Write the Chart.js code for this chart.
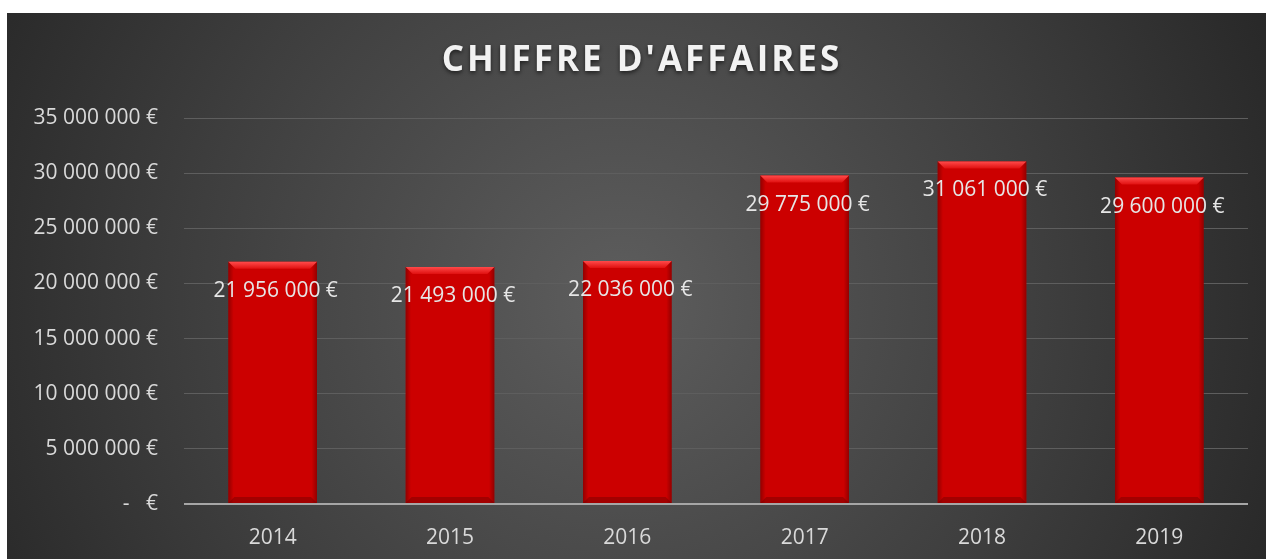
<!DOCTYPE html>
<html>
<head>
<meta charset="utf-8">
<script src="https://cdn.jsdelivr.net/npm/chart.js@4/dist/chart.umd.min.js"></script>
<style>
  html, body { margin: 0; padding: 0; background: #fff; }
  #wrap { width: 1266px; height: 559px; position: relative; }
</style>
</head>
<body>
<div id="wrap"><canvas id="chart"></canvas></div>
<script>
let years = ['2014', '2015', '2016', '2017', '2018', '2019'];
let revenue = [21956000, 21493000, 22036000, 29775000, 31061000, 29600000];
let chartTitle = "CHIFFRE D'AFFAIRES";

function euro(v) {
    if (v === 0) return '-   €';
    return String(v).replace(/\B(?=(\d{3})+(?!\d))/g, ' ') + ' €';
}

// dark panel with a soft radial light
let panelBg = {
    id: 'panelBg',
    beforeDraw(chart) {
        let c = chart.ctx;
        let w = chart.width, h = chart.height;
        c.save();
        let g = c.createRadialGradient(620, 300, 20, 620, 300, 760);
        g.addColorStop(0, '#5c5c5c');
        g.addColorStop(0.55, '#3e3e3e');
        g.addColorStop(1, '#242424');
        c.fillStyle = g;
        c.fillRect(7, 13, w - 7, h - 13);
        // title
        c.font = 'bold 35px "Open Sans"';
        c.textAlign = 'center';
        c.textBaseline = 'middle';
        c.shadowColor = 'rgba(0,0,0,0.6)';
        c.shadowBlur = 4;
        c.shadowOffsetY = 2;
        c.fillStyle = '#f2f2f2';
        if (c.letterSpacing !== undefined) c.letterSpacing = '3px';
        c.fillText(chartTitle, 642, 61);
        c.restore();
    }
};

// bevel on top of bars + value labels
let barDecor = {
    id: 'barDecor',
    afterDatasetsDraw(chart) {
        let c = chart.ctx;
        let meta = chart.getDatasetMeta(0);
        c.save();
        meta.data.forEach((bar, i) => {
            let l = bar.x - bar.width / 2, r = bar.x + bar.width / 2, t = bar.y;
            let b = bar.base;
            // side shading
            let sg = c.createLinearGradient(l, 0, r, 0);
            sg.addColorStop(0, 'rgba(90,0,0,0.5)');
            sg.addColorStop(0.06, 'rgba(90,0,0,0)');
            sg.addColorStop(0.94, 'rgba(90,0,0,0)');
            sg.addColorStop(1, 'rgba(90,0,0,0.5)');
            c.fillStyle = sg;
            c.fillRect(l, t, r - l, b - t);
            // top bevel
            c.beginPath();
            c.moveTo(l, t);
            c.lineTo(r, t);
            c.lineTo(r - 7, t + 7);
            c.lineTo(l + 7, t + 7);
            c.closePath();
            let tg = c.createLinearGradient(0, t, 0, t + 7);
            tg.addColorStop(0, '#ff4a4a');
            tg.addColorStop(1, '#e01010');
            c.fillStyle = tg;
            c.fill();
            // bottom bevel
            c.beginPath();
            c.moveTo(l, b);
            c.lineTo(r, b);
            c.lineTo(r - 6, b - 6);
            c.lineTo(l + 6, b - 6);
            c.closePath();
            c.fillStyle = 'rgba(110,0,0,0.45)';
            c.fill();
        });
        c.font = '21px "Open Sans"';
        c.textAlign = 'center';
        c.textBaseline = 'middle';
        c.fillStyle = '#e6e6e6';
        meta.data.forEach((bar, i) => {
            c.fillText(euro(revenue[i]), bar.x + 3, bar.y + 29);
        });
        c.restore();
    }
};

let ctx = document.getElementById('chart').getContext('2d');
let chart = new Chart(ctx, {
    type: 'bar',
    data: {
        labels: years,
        datasets: [{
            data: revenue,
            backgroundColor: '#cc0000',
            borderWidth: 0,
            categoryPercentage: 1,
            barPercentage: 0.5
        }]
    },
    options: {
        responsive: true,
        maintainAspectRatio: false,
        animation: false,
        layout: { padding: { left: 7, right: 18, top: 118, bottom: 0 } },
        plugins: {
            legend: { display: false },
            tooltip: { enabled: false }
        },
        scales: {
            x: {
                grid: { display: false, drawTicks: false },
                border: { display: false },
                ticks: { color: '#d9d9d9', font: { family: 'Open Sans', size: 21 }, padding: 21 },
                afterFit(s) { s.height = 55; }
            },
            y: {
                min: 0,
                max: 35000000,
                border: { display: false },
                grid: {
                    drawTicks: false,
                    color: (c) => c.index === 0 ? '#a6a6a6' : '#5e5e5e',
                    lineWidth: (c) => c.index === 0 ? 2 : 1
                },
                ticks: {
                    stepSize: 5000000,
                    color: '#d9d9d9',
                    font: { family: 'Open Sans', size: 21 },
                    padding: 26,
                    callback: (v) => euro(v)
                },
                afterFit(s) { s.width = 177; }
            }
        }
    },
    plugins: [panelBg, barDecor]
});
</script>
</body>
</html>
